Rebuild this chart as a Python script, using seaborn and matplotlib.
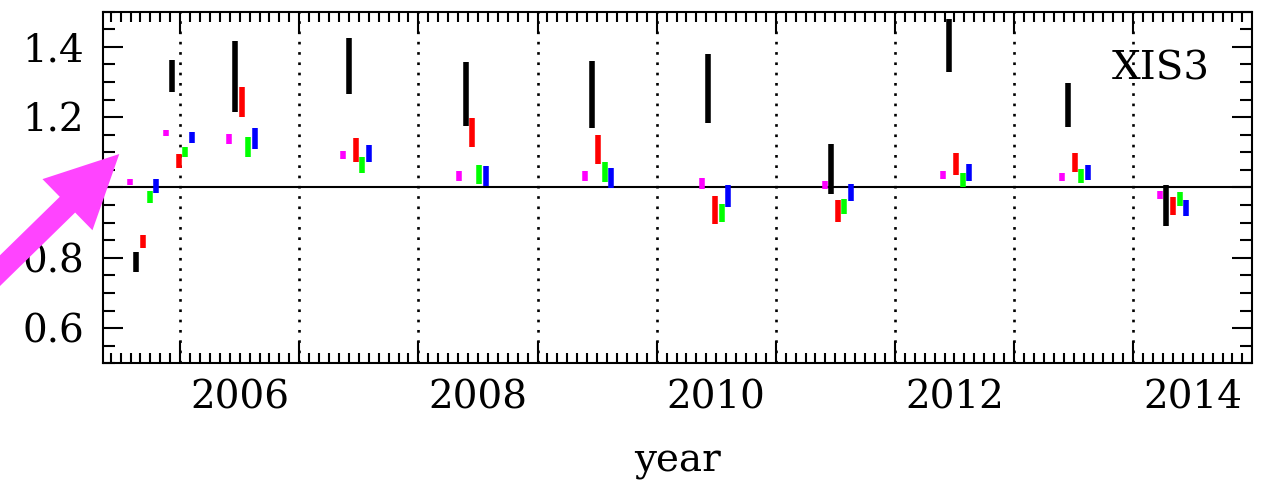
import numpy as np
import pandas as pd
import matplotlib
matplotlib.use("Agg")
import matplotlib.pyplot as plt
from matplotlib.patches import FancyArrow
from matplotlib.ticker import MultipleLocator, FixedLocator
import seaborn as sns

# ---------------- data ----------------
epochs = [2005.633, 2005.935, 2006.461, 2007.420, 2008.399, 2009.454,
          2010.435, 2011.464, 2012.458, 2013.456, 2014.279]

magenta_lo = [1.007, 1.146, 1.123, 1.080, 1.018, 1.018, 0.995, 0.995, 1.025, 1.019, 0.967]
magenta_hi = [1.024, 1.164, 1.151, 1.105, 1.046, 1.046, 1.026, 1.018, 1.048, 1.040, 0.990]
black_lo = [0.760, 1.271, 1.216, 1.265, 1.175, 1.170, 1.183, 0.982, 1.329, 1.173, 0.890]
black_hi = [0.817, 1.363, 1.418, 1.424, 1.358, 1.359, 1.380, 1.124, 1.479, 1.298, 1.006]
red_lo = [0.827, 1.056, 1.201, 1.072, 1.116, 1.067, 0.896, 0.903, 1.036, 1.044, 0.921]
red_hi = [0.865, 1.095, 1.287, 1.142, 1.199, 1.149, 0.977, 0.964, 1.099, 1.099, 0.973]
green_lo = [0.957, 1.088, 1.088, 1.041, 1.011, 1.016, 0.901, 0.925, 1.000, 1.012, 0.947]
green_hi = [0.991, 1.114, 1.143, 1.086, 1.063, 1.072, 0.954, 0.966, 1.040, 1.052, 0.987]
blue_lo = [0.985, 1.127, 1.110, 1.072, 1.004, 0.998, 0.945, 0.962, 1.018, 1.020, 0.919]
blue_hi = [1.023, 1.159, 1.169, 1.120, 1.061, 1.055, 1.006, 1.011, 1.066, 1.063, 0.964]

year_labels = ["2006", "2008", "2010", "2012", "2014"]
year_label_pos = [2006.5, 2008.5, 2010.5, 2012.5, 2014.5]
ytick_vals = [0.6, 0.8, 1.0, 1.2, 1.4]
ytick_text = ["0.6", "0.8", "", "1.2", "1.4"]
panel_name = "XIS3"

# ---------------- style ----------------
sns.set_style("ticks")
plt.rcParams["font.family"] = ["DejaVu Serif"]
plt.rcParams["lines.solid_capstyle"] = "butt"
for key in ["text.color", "axes.labelcolor", "xtick.color", "ytick.color", "axes.edgecolor"]:
    plt.rcParams[key] = "black"

bands = {
    "magenta": (magenta_lo, magenta_hi, "#ff00ff", -1),
    "black": (black_lo, black_hi, "#000000", 0),
    "red": (red_lo, red_hi, "#ff0000", 1),
    "green": (green_lo, green_hi, "#00ff00", 2),
    "blue": (blue_lo, blue_hi, "#0000ff", 3),
}
step = 0.055

rows = []
for name, (lo, hi, col, k) in bands.items():
    for i, t in enumerate(epochs):
        uid = f"{name}_{i}"
        rows.append(dict(x=t + k * step, y=lo[i], band=name, unit=uid))
        rows.append(dict(x=t + k * step, y=hi[i], band=name, unit=uid))
df = pd.DataFrame(rows)
palette = {n: v[2] for n, v in bands.items()}

fig = plt.figure(figsize=(12.63, 4.82), dpi=100)
ax = fig.add_axes([103.3 / 1263, 1 - 363.3 / 482, (1251.7 - 103.3) / 1263, 351.6 / 482])

# year boundaries and unity line
for yr in range(2006, 2015):
    ax.axvline(yr, color="black", lw=1.9, ls=(0, (1, 2.9)), zorder=1)
ax.axhline(1.0, color="black", lw=1.5, zorder=1)

sns.lineplot(data=df, x="x", y="y", hue="band", units="unit", estimator=None,
             palette=palette, linewidth=4.0, legend=False, sort=False, ax=ax, zorder=3)

ax.set_xlim(2005.355, 2014.995)
ax.set_ylim(0.5, 1.5)

# axes frame and ticks
for s in ax.spines.values():
    s.set_linewidth(1.5)
    s.set_color("black")
ax.xaxis.set_major_locator(MultipleLocator(1))
ax.xaxis.set_minor_locator(MultipleLocator(1 / 12))
ax.yaxis.set_major_locator(FixedLocator(ytick_vals))
ax.set_yticklabels(ytick_text)
ax.yaxis.set_minor_locator(MultipleLocator(0.05))
ax.tick_params(axis="x", which="major", direction="in", length=16, width=1.5,
               top=True, bottom=True, labelbottom=False, color="black")
ax.tick_params(axis="x", which="minor", direction="in", length=7.5, width=1.5,
               top=True, bottom=True, color="black")
ax.tick_params(axis="y", which="major", direction="in", length=14.5, width=1.5,
               left=True, right=True, labelsize=28, pad=14, color="black",
               labelcolor="black")
ax.tick_params(axis="y", which="minor", direction="in", length=8.5, width=1.5,
               left=True, right=True, color="black")
ax.set_xlabel("")
ax.set_ylabel("")

sec = ax.secondary_xaxis("bottom")
sec.set_xticks(year_label_pos, labels=year_labels)
sec.tick_params(axis="x", length=0, labelsize=28, pad=12, labelcolor="black")
sec.xaxis.set_minor_locator(FixedLocator([]))
sec.spines["bottom"].set_visible(False)
sec.set_xlabel("year", fontsize=28, labelpad=19, color="black")

ax.text(0.9637, 0.806, panel_name, transform=ax.transAxes, ha="right",
        va="baseline", fontsize=29, color="black")

# pointing arrow (in inches on the figure)
tip = (1.193, 3.28)
tail = (-0.237, 1.882)
arr = FancyArrow(tail[0], tail[1], tip[0] - tail[0], tip[1] - tail[1],
                 width=0.22, head_width=0.715, head_length=0.725,
                 length_includes_head=True, color="#ff44ff", lw=0,
                 transform=fig.dpi_scale_trans, clip_on=False, zorder=10)
fig.add_artist(arr)

fig.savefig("out.png", dpi=100)
